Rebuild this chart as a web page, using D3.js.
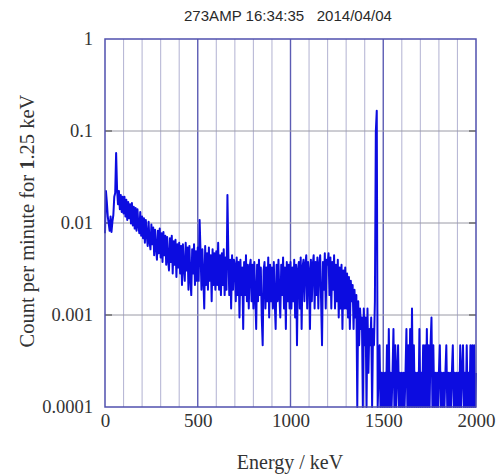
<!DOCTYPE html>
<html>
<head>
<meta charset="utf-8">
<script src="https://cdn.jsdelivr.net/npm/d3@7/dist/d3.min.js"></script>
<style>
  html, body { margin: 0; padding: 0; background: #fff; }
  svg { display: block; }
</style>
</head>
<body>
<svg id="chart" width="501" height="476"></svg>
<script>
// Gamma spectrum: counts in each sampled channel, one value every 5 keV from 0 to 2000 keV.
const channelStartKeV = 0;
const channelStepKeV = 5;
const cpmPerCount = 0.000235;

const counts = [
  // 0 - 95 keV
  33, 95, 72, 50, 42, 35, 50, 34, 44, 52, 82, 90, 245, 100, 68, 95, 60, 86, 56, 82,
  // 100 - 195
  54, 82, 50, 76, 46, 72, 48, 68, 42, 70, 40, 64, 37, 62, 35, 60, 40, 33, 56, 31,
  // 200 - 295
  50, 29, 48, 26, 46, 32, 24, 44, 27, 22, 41, 25, 38, 19, 36, 23, 17, 35, 20, 37,
  // 300 - 395
  18, 33, 16, 34, 19, 31, 15, 30, 17, 13, 29, 16, 31, 12, 27, 15, 28, 11, 25, 14,
  // 400 - 495
  26, 12, 24, 9, 25, 14, 10, 26, 13, 23, 8, 24, 11, 7, 22, 12, 25, 9, 21, 10,
  // 500 - 595
  23, 10, 46, 21, 8, 22, 11, 5, 24, 9, 20, 8, 23, 10, 19, 6, 22, 9, 20, 8,
  // 600 - 695
  21, 9, 26, 8, 19, 7, 20, 9, 22, 7, 18, 8, 86, 19, 7, 17, 5, 19, 8, 17,
  // 700 - 795
  15, 6, 18, 7, 16, 4, 17, 7, 14, 3, 16, 7, 19, 6, 15, 5, 14, 17, 6, 15,
  // 800 - 895
  5, 16, 7, 3, 15, 6, 17, 7, 14, 4, 2, 13, 16, 5, 14, 6, 18, 4, 15, 6,
  // 900 - 995
  14, 5, 16, 6, 3, 15, 6, 17, 7, 4, 15, 7, 18, 5, 14, 3, 16, 6, 15, 5,
  // 1000 - 1095
  16, 5, 14, 6, 17, 4, 15, 2, 13, 16, 5, 18, 3, 14, 17, 6, 15, 19, 5, 16,
  // 1100 - 1195
  13, 3, 17, 6, 15, 19, 5, 16, 7, 18, 5, 15, 19, 6, 2, 16, 8, 20, 5, 17,
  // 1200 - 1295
  15, 20, 7, 18, 5, 16, 8, 19, 5, 15, 6, 17, 4, 14, 5, 15, 3, 13, 5, 14,
  // 1300 - 1395
  5, 12, 4, 11, 3, 10, 6, 9, 3, 8, 4, 7, 0, 6, 2, 5, 3, 4, 0, 5,
  // 1400 - 1495
  2, 4, 0, 5, 1, 3, 2, 4, 0, 3, 2, 6, 420, 708, 0, 1, 2, 0, 1, 0,
  // 1500 - 1595
  1, 0, 1, 0, 2, 0, 3, 0, 1, 0, 1, 3, 0, 2, 0, 1, 2, 0, 1, 0,
  // 1600 - 1695
  1, 0, 1, 0, 1, 3, 0, 2, 0, 3, 0, 5, 0, 2, 0, 1, 0, 1, 0, 3,
  // 1700 - 1795
  0, 1, 0, 2, 0, 2, 0, 3, 0, 2, 0, 2, 4, 0, 2, 0, 1, 0, 1, 0,
  // 1800 - 1895
  1, 2, 0, 1, 0, 1, 0, 1, 2, 0, 1, 0, 1, 0, 1, 2, 0, 1, 0, 1,
  // 1900 - 1995
  0, 1, 0, 2, 0, 1, 2, 0, 1, 0, 2, 0, 1, 0, 2, 0, 2, 0, 2, 0,
  // 2000
  1
];

const title = "273AMP 16:34:35   2014/04/04";
const xTickValues = [0, 500, 1000, 1500, 2000];
const xGridValues = [100, 200, 300, 400, 500, 600, 700, 800, 900, 1000,
                     1100, 1200, 1300, 1400, 1500, 1600, 1700, 1800, 1900];
const yTickValues = [1, 0.1, 0.01, 0.001, 0.0001];
const yTickLabels = ["1", "0.1", "0.01", "0.001", "0.0001"];
const xDomain = [0, 2000];
const yDomain = [0.0001, 1];

const spectrum = counts.map((c, i) => ({
  energy: channelStartKeV + i * channelStepKeV,
  cpm: c * cpmPerCount
}));

const svg = d3.select("#chart");
const plot = { left: 105, right: 476, top: 39, bottom: 407 };

const x = d3.scaleLinear().domain(xDomain).range([plot.left, plot.right]);
const y = d3.scaleLog().domain(yDomain).range([plot.bottom, plot.top]).clamp(true);

// vertical grid, heavier every 500 keV
svg.append("g").selectAll("line").data(xGridValues).join("line")
  .attr("x1", d => x(d)).attr("x2", d => x(d))
  .attr("y1", plot.top).attr("y2", plot.bottom)
  .attr("stroke", d => d % 500 === 0 ? "#5c5cb4" : "#b9b9d6")
  .attr("stroke-width", d => d % 500 === 0 ? 1.4 : 1.1);

// horizontal decade grid
svg.append("g").selectAll("line").data(yTickValues.slice(1, -1)).join("line")
  .attr("x1", plot.left).attr("x2", plot.right)
  .attr("y1", d => y(d)).attr("y2", d => y(d))
  .attr("stroke", "#9a9aa6").attr("stroke-width", 1);

// short decade ticks on the inner left and right edges
svg.append("g").selectAll("line").data(yTickValues.slice(1, -1)).join("line")
  .attr("x1", plot.left).attr("x2", plot.left + 7)
  .attr("y1", d => y(d)).attr("y2", d => y(d))
  .attr("stroke", "#555").attr("stroke-width", 1.2);
svg.append("g").selectAll("line").data(yTickValues.slice(1, -1)).join("line")
  .attr("x1", plot.right - 7).attr("x2", plot.right)
  .attr("y1", d => y(d)).attr("y2", d => y(d))
  .attr("stroke", "#555").attr("stroke-width", 1.2);

// spectrum trace
const line = d3.line().x(d => x(d.energy)).y(d => y(Math.max(d.cpm, yDomain[0])));
svg.append("path").datum(spectrum)
  .attr("d", line)
  .attr("fill", "none")
  .attr("stroke", "#0c0ce0")
  .attr("stroke-width", 2)
  .attr("stroke-linejoin", "round");

// frame
svg.append("rect")
  .attr("x", plot.left).attr("y", plot.top)
  .attr("width", plot.right - plot.left).attr("height", plot.bottom - plot.top)
  .attr("fill", "none").attr("stroke", "#5050ae").attr("stroke-width", 1.5);

// axes
const serif = "'Liberation Serif', 'DejaVu Serif', serif";
const xAxis = svg.append("g").attr("transform", `translate(0,${plot.bottom})`)
  .call(d3.axisBottom(x).tickValues(xTickValues).tickSize(0).tickPadding(7).tickFormat(d3.format("d")));
xAxis.select(".domain").remove();
xAxis.selectAll("text").attr("font-family", serif).attr("font-size", 19).attr("fill", "#333");

const yAxis = svg.append("g").attr("transform", `translate(${plot.left},0)`)
  .call(d3.axisLeft(y).tickValues(yTickValues).tickSize(0).tickPadding(12)
    .tickFormat((d, i) => yTickLabels[i]));
yAxis.select(".domain").remove();
yAxis.selectAll("text").attr("font-family", serif).attr("font-size", 18.5).attr("fill", "#333");

// title
svg.append("text")
  .attr("x", 288).attr("y", 20.5)
  .attr("text-anchor", "middle")
  .attr("font-family", "'Liberation Sans', Arial, sans-serif")
  .attr("font-size", 14).attr("fill", "#2a2a2a")
  .attr("textLength", 208).attr("lengthAdjust", "spacingAndGlyphs")
  .attr("xml:space", "preserve")
  .text(title);

// axis titles
svg.append("text")
  .attr("x", 290).attr("y", 469)
  .attr("text-anchor", "middle")
  .attr("font-family", serif).attr("font-size", 20).attr("fill", "#333")
  .text("Energy / keV");

const yLabel = svg.append("text")
  .attr("transform", "translate(34,221) rotate(-90)")
  .attr("text-anchor", "middle")
  .attr("font-family", serif).attr("font-size", 20.5).attr("fill", "#333");
yLabel.append("tspan").text("Count per minute for ");
yLabel.append("tspan").attr("font-weight", "bold").text("1");
yLabel.append("tspan").text(".25 keV");
</script>
</body>
</html>
